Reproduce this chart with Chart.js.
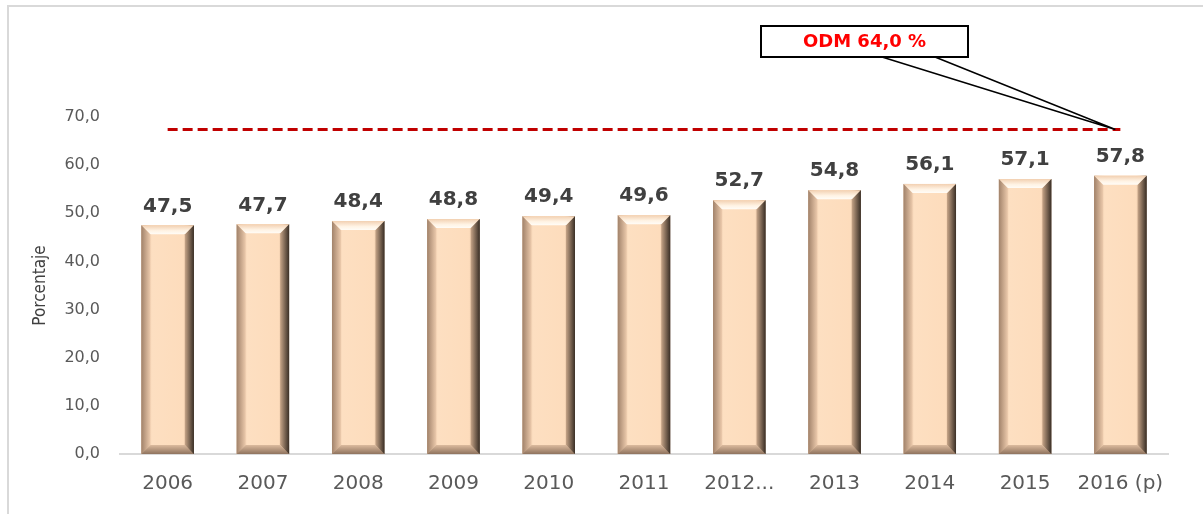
<!DOCTYPE html>
<html>
<head>
<meta charset="utf-8">
<script src="https://cdn.jsdelivr.net/npm/chart.js@4"></script>
<style>
  html, body { margin: 0; padding: 0; background: #fff; }
  canvas { display: block; }
</style>
</head>
<body>
<canvas id="grafico" width="1203" height="514"></canvas>
<script>
// datos
const anios = ["2006", "2007", "2008", "2009", "2010", "2011", "2012...", "2013", "2014", "2015", "2016 (p)"];
const porcentajes = [47.5, 47.7, 48.4, 48.8, 49.4, 49.6, 52.7, 54.8, 56.1, 57.1, 57.8];
const metaOdm = [67.4, 67.4, 67.4, 67.4, 67.4, 67.4, 67.4, 67.4, 67.4, 67.4, 67.4];
const textoMeta = "ODM 64,0 %";
const ticksY = [0, 10, 20, 30, 40, 50, 60, 70];

const fmt = v => v.toFixed(1).replace(".", ",");

// marco exterior gris
const marco = {
  id: "marco",
  beforeDraw(chart) {
    const ctx = chart.ctx;
    ctx.save();
    ctx.strokeStyle = "#d9d9d9";
    ctx.lineWidth = 2;
    ctx.beginPath();
    ctx.moveTo(8, chart.height);
    ctx.lineTo(8, 6);
    ctx.lineTo(chart.width, 6);
    ctx.stroke();
    ctx.restore();
  }
};

// barras con bisel + etiquetas de valor
const bisel = {
  id: "bisel",
  afterDatasetsDraw(chart) {
    const ctx = chart.ctx;
    const meta = chart.getDatasetMeta(0);
    meta.data.forEach((bar, i) => {
      const p = bar.getProps(["x", "y", "width", "base"], true);
      const l = p.x - p.width / 2, r = p.x + p.width / 2, t = p.y, b = p.base;
      const bv = 9;
      ctx.save();

      let g = ctx.createLinearGradient(l, 0, r, 0);
      g.addColorStop(0, "#b08f75");
      g.addColorStop(0.1, "#e8c4a5");
      g.addColorStop(0.2, "#fddfc1");
      g.addColorStop(0.8, "#fddcbc");
      g.addColorStop(0.88, "#dcbb9d");
      g.addColorStop(0.95, "#7d6553");
      g.addColorStop(1, "#3f3329");
      ctx.fillStyle = g;
      ctx.fillRect(l, t, r - l, b - t);

      // lado izquierdo
      g = ctx.createLinearGradient(l, 0, l + bv, 0);
      g.addColorStop(0, "#a2836b");
      g.addColorStop(1, "#eccaac");
      ctx.fillStyle = g;
      ctx.beginPath();
      ctx.moveTo(l, t); ctx.lineTo(l + bv, t + bv); ctx.lineTo(l + bv, b - bv); ctx.lineTo(l, b);
      ctx.closePath(); ctx.fill();

      // lado derecho
      g = ctx.createLinearGradient(r - bv, 0, r, 0);
      g.addColorStop(0, "#c7a588");
      g.addColorStop(1, "#3a2f26");
      ctx.fillStyle = g;
      ctx.beginPath();
      ctx.moveTo(r, t); ctx.lineTo(r - bv, t + bv); ctx.lineTo(r - bv, b - bv); ctx.lineTo(r, b);
      ctx.closePath(); ctx.fill();

      // arriba
      g = ctx.createLinearGradient(0, t, 0, t + bv);
      g.addColorStop(0, "#f2d0b1");
      g.addColorStop(0.6, "#fff3e4");
      g.addColorStop(1, "#fffcf7");
      ctx.fillStyle = g;
      ctx.beginPath();
      ctx.moveTo(l, t); ctx.lineTo(r, t); ctx.lineTo(r - bv, t + bv); ctx.lineTo(l + bv, t + bv);
      ctx.closePath(); ctx.fill();

      // abajo
      g = ctx.createLinearGradient(0, b - bv, 0, b);
      g.addColorStop(0, "#dcbb9e");
      g.addColorStop(1, "#8f735e");
      ctx.fillStyle = g;
      ctx.beginPath();
      ctx.moveTo(l, b); ctx.lineTo(r, b); ctx.lineTo(r - bv, b - bv); ctx.lineTo(l + bv, b - bv);
      ctx.closePath(); ctx.fill();

      // valor
      ctx.fillStyle = "#404040";
      ctx.font = "bold 20px 'DejaVu Sans'";
      ctx.textAlign = "center";
      ctx.textBaseline = "bottom";
      ctx.fillText(fmt(porcentajes[i]), p.x, t - 9);
      ctx.restore();
    });
  }
};

// cuadro de la meta ODM con su flecha
const llamada = {
  id: "llamada",
  afterDraw(chart) {
    const ctx = chart.ctx;
    const pts = chart.getDatasetMeta(1).data;
    const fin = pts[pts.length - 1];
    const px = fin.x - 5, py = fin.y;
    const bx = 761, by = 26, bw = 207, bh = 31;
    ctx.save();
    ctx.strokeStyle = "#000";
    ctx.lineWidth = 1.5;
    ctx.beginPath();
    ctx.moveTo(882, by + bh); ctx.lineTo(px, py);
    ctx.moveTo(935, by + bh); ctx.lineTo(px, py);
    ctx.stroke();
    ctx.fillStyle = "#fff";
    ctx.fillRect(bx, by, bw, bh);
    ctx.lineWidth = 2;
    ctx.strokeRect(bx, by, bw, bh);
    ctx.fillStyle = "#ff0000";
    ctx.font = "bold 18px 'DejaVu Sans'";
    ctx.textAlign = "center";
    ctx.textBaseline = "middle";
    ctx.fillText(textoMeta, bx + bw / 2, by + bh / 2 + 1);
    ctx.restore();
  }
};

const ctx = document.getElementById("grafico").getContext("2d");

new Chart(ctx, {
  type: "bar",
  data: {
    labels: anios,
    datasets: [{
      label: "Porcentaje",
      data: porcentajes,
      backgroundColor: "#fddcbc",
      categoryPercentage: 1,
      barPercentage: 0.55,
      order: 2
    }, {
      type: "line",
      label: "ODM",
      data: metaOdm,
      borderColor: "#c00000",
      borderWidth: 3,
      borderDash: [10, 5],
      pointRadius: 0,
      fill: false,
      order: 1
    }]
  },
  options: {
    responsive: false,
    animation: false,
    devicePixelRatio: 1,
    layout: { padding: { top: 117, left: 8, right: 35, bottom: 8 } },
    plugins: {
      legend: { display: false },
      tooltip: { enabled: false }
    },
    scales: {
      x: {
        grid: { display: false },
        border: { display: true, color: "#d9d9d9", width: 2 },
        ticks: { color: "#595959", font: { family: "DejaVu Sans", size: 20 }, padding: 10, maxRotation: 0, autoSkip: false }
      },
      y: {
        min: 0,
        max: 70,
        afterBuildTicks: axis => { axis.ticks = ticksY.map(v => ({ value: v })); },
        afterFit: axis => { axis.width = 112; },
        grid: { display: false, drawTicks: false },
        border: { display: false },
        title: {
          display: true,
          text: "Porcentaje",
          color: "#404040",
          font: { family: "'DejaVu Sans Condensed', 'Liberation Sans', sans-serif", size: 17 },
          padding: { top: 22, bottom: 15 }
        },
        ticks: {
          color: "#595959",
          font: { family: "DejaVu Sans", size: 16 },
          padding: 20,
          callback: v => fmt(v)
        }
      }
    }
  },
  plugins: [marco, bisel, llamada]
});
</script>
</body>
</html>
